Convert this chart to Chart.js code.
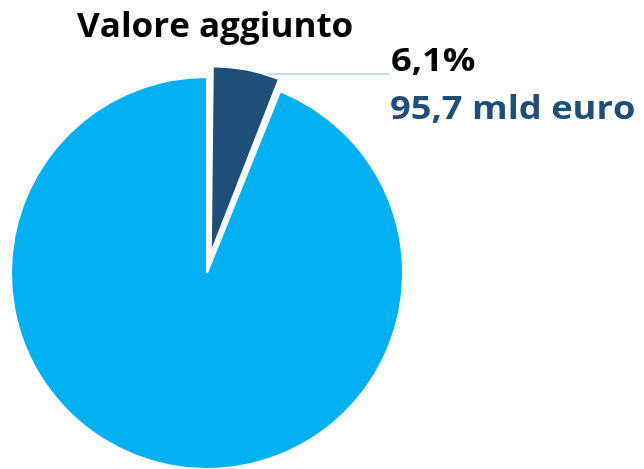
<!DOCTYPE html>
<html>
<head>
<meta charset="utf-8">
<script src="https://cdn.jsdelivr.net/npm/chart.js@4"></script>
<style>
  html, body { margin: 0; padding: 0; background: #fff; }
  #wrap { width: 644px; height: 469px; }
</style>
</head>
<body>
<div id="wrap"><canvas id="chartPie"></canvas></div>
<script>
// Valore aggiunto — quota in % e valore in mld euro
var titolo = 'Valore aggiunto';
var categorie = ['Settore', 'Resto'];
var quote = [6.1, 93.9];
var etichettaQuota = '6,1%';
var etichettaValore = '95,7 mld euro';
var colori = ['#1F4E79', '#00B0F0'];

// testo allargato un po' in orizzontale (il font originale è più largo)
function scrivi(ctx, testo, x, y, sx) {
    ctx.save();
    ctx.translate(x, y);
    ctx.scale(sx, 1);
    ctx.fillText(testo, 0, 0);
    ctx.restore();
}

// testo e linea di richiamo
var testiPlugin = {
    id: 'testi',
    beforeDatasetsDraw: function(chart) {
        var ctx = chart.ctx;
        var meta = chart.getDatasetMeta(0);
        var arc = meta.data[0];
        var off = chart.data.datasets[0].offset[0] / 4; // Chart.js sposta di offset/4
        // Chart.js allarga il raggio della fetta staccata: lo compensiamo,
        // e la rendiamo un po' più piccola come nell'originale
        var rOff = off * (1 - Math.sin(Math.min(Math.PI, arc.circumference)));
        var rVis = meta.controller.outerRadius * 0.955;
        arc.outerRadius = rVis - rOff;
        var mid = (arc.startAngle + arc.endAngle) / 2;
        var vx = arc.x + off * Math.cos(mid);
        var vy = arc.y + off * Math.sin(mid);
        var a = arc.startAngle + 0.6 * (arc.endAngle - arc.startAngle);
        var px = vx + (rVis - 3) * Math.cos(a);
        var py = vy + (rVis - 3) * Math.sin(a);
        ctx.save();
        ctx.strokeStyle = '#A9D3DD';
        ctx.lineWidth = 1.5;
        ctx.beginPath();
        ctx.moveTo(px, py);
        ctx.lineTo(389, py);
        ctx.stroke();
        ctx.restore();
    },
    afterDraw: function(chart) {
        var ctx = chart.ctx;
        ctx.save();
        ctx.textBaseline = 'alphabetic';
        ctx.textAlign = 'left';
        ctx.fillStyle = '#000000';
        ctx.font = 'bold 34px "Open Sans"';
        scrivi(ctx, titolo, 77, 37, 1.03);
        ctx.font = 'bold 33px "Open Sans"';
        scrivi(ctx, etichettaQuota, 391, 71, 1.1);
        ctx.fillStyle = '#1F4E79';
        scrivi(ctx, etichettaValore, 390, 119, 1.1);
        ctx.restore();
    }
};

new Chart(document.getElementById('chartPie'), {
    type: 'pie',
    data: {
        labels: categorie,
        datasets: [{
            data: quote,
            backgroundColor: colori,
            borderColor: '#ffffff',
            borderWidth: 2,
            offset: [80, 0],
            clip: false,
        }],
    },
    options: {
        responsive: true,
        maintainAspectRatio: false,
        animation: false,
        radius: 196,
        layout: { padding: { left: 0, right: 230, top: 77, bottom: 0 } },
        plugins: {
            legend: { display: false },
            tooltip: { enabled: false },
        },
    },
    plugins: [testiPlugin],
});
</script>
</body>
</html>
